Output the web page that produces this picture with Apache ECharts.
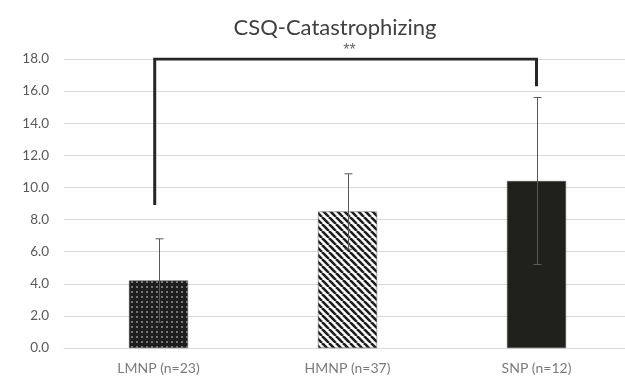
<!DOCTYPE html>
<html><head><meta charset="utf-8">
<script src="https://cdn.jsdelivr.net/npm/echarts@6/dist/echarts.min.js"></script>
<style>html,body{margin:0;padding:0;background:#fff}#c{width:625px;height:376px}</style>
</head><body><div id="c"></div>
<script>
const categories = ['LMNP (n=23)', 'HMNP (n=37)', 'SNP (n=12)'];
const means = [4.2, 8.5, 10.4];
const errors = [2.6, 2.35, 5.2];
const yTicks = {min: 0, max: 18, interval: 2};
const bracketX = [0.48, 2.5];
const bracketLeft = 9.0;
const bracketTop = 18.0;
const bracketRight = 16.4;
const sigLabel = '**';

// category slots on a value x axis: slot i is centred at i + 0.5
const xPos = categories.map((c, i) => i + 0.5);
const xMax = 561 / 189; // the plot area continues past the right edge of the picture

function dotPattern(){
  const c = document.createElement('canvas'); c.width = 5; c.height = 5;
  const g = c.getContext('2d');
  g.fillStyle = '#1e1e1e'; g.fillRect(0,0,5,5);
  g.fillStyle = '#777777'; g.fillRect(1,1,2,2);
  return c;
}
function stripePattern(){
  const s = 7;
  const c = document.createElement('canvas'); c.width = s; c.height = s;
  const g = c.getContext('2d');
  g.fillStyle = '#ffffff'; g.fillRect(0,0,s,s);
  g.strokeStyle = '#1e1e1e'; g.lineWidth = 2.6;
  for (let k = -1; k <= 1; k++) {
    g.beginPath(); g.moveTo(k*s, 0); g.lineTo(k*s + s, s); g.stroke();
  }
  return c;
}
const fills = [
  {image: dotPattern(), repeat: 'repeat'},
  {image: stripePattern(), repeat: 'repeat'},
  '#21211c'
];

const chart = echarts.init(document.getElementById('c'), null, {renderer: 'canvas'});
const font = "Lato, sans-serif";
chart.setOption({
  animation: false,
  title: {text: 'CSQ-Catastrophizing', left: 330, top: 12, textAlign: 'center',
    textStyle: {fontFamily: font, fontSize: 22, fontWeight: 'normal', color: '#404040'}},
  grid: {left: 64, top: 59, right: 0, height: 289},
  xAxis: {type: 'value', min: 0, max: xMax,
    axisLine: {show: true, onZero: false, lineStyle: {color: '#d9d9d9', width: 1}},
    axisTick: {show: false}, axisLabel: {show: false}, splitLine: {show: false}},
  yAxis: {type: 'value', min: yTicks.min, max: yTicks.max, interval: yTicks.interval,
    axisLine: {show: false}, axisTick: {show: false},
    splitLine: {lineStyle: {color: '#d9d9d9', width: 1}},
    axisLabel: {color: '#595959', fontSize: 13.5, fontFamily: font, margin: 15,
      formatter: v => v.toFixed(1)}},
  series: [
    {type: 'bar', barWidth: 59, z: 2,
      data: means.map((v,i)=>({value: [xPos[i], v], itemStyle: {color: fills[i], borderColor: '#555', borderWidth: 0.5}}))},
    {type: 'custom', z: 5, data: means.map((v,i)=>[xPos[i], v - errors[i], v + errors[i]]),
      renderItem: function(params, api){
        const lo = api.coord([api.value(0), api.value(1)]);
        const hi = api.coord([api.value(0), api.value(2)]);
        const x = Math.round(hi[0]) + 0.5;
        const st = {stroke: '#595959', lineWidth: 1};
        return {type: 'group', children: [
          {type: 'line', shape: {x1: x, y1: hi[1], x2: x, y2: lo[1]}, style: st},
          {type: 'line', shape: {x1: x-4, y1: hi[1], x2: x+4, y2: hi[1]}, style: st},
          {type: 'line', shape: {x1: x-4, y1: lo[1], x2: x+4, y2: lo[1]}, style: st}
        ]};
      }},
    {type: 'line', z: 6, symbol: 'none', silent: true,
      lineStyle: {color: '#262626', width: 3, cap: 'square', join: 'miter'},
      data: [[bracketX[0], bracketLeft], [bracketX[0], bracketTop], [bracketX[1], bracketTop], [bracketX[1], bracketRight]]},
    {type: 'scatter', z: 7, symbolSize: 0, silent: true,
      data: [[(bracketX[0] + bracketX[1]) / 2 + 0.02, bracketTop]],
      label: {show: true, position: 'top', distance: 0, formatter: sigLabel, color: '#404040', fontSize: 16, fontFamily: "'Liberation Sans', sans-serif"}},
    {type: 'scatter', z: 7, symbolSize: 0, silent: true,
      data: categories.map((c, i) => ({value: [xPos[i], yTicks.min], name: c})),
      label: {show: true, position: 'bottom', distance: 13, formatter: p => p.name,
        color: '#595959', fontSize: 14, fontFamily: font}}
  ]
});
</script>
</body></html>
